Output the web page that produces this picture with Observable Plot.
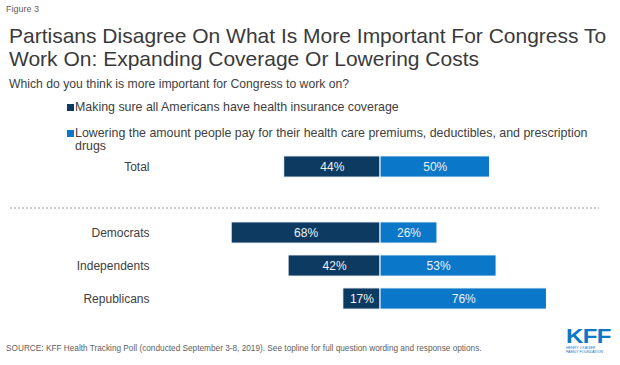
<!DOCTYPE html>
<html>
<head>
<meta charset="utf-8">
<script src="https://cdn.jsdelivr.net/npm/d3@7"></script>
<script src="https://cdn.jsdelivr.net/npm/@observablehq/plot@0.6"></script>
<style>
  html, body { margin: 0; padding: 0; background: #fff; }
  #wrap { position: relative; width: 620px; height: 365px; overflow: hidden; font-family: "Liberation Sans", Arial, sans-serif; background: #fff; }
  .abs { position: absolute; white-space: nowrap; }
  #fig { left: 6px; top: 4px; font-size: 9px; color: #606060; }
  #title { left: 9px; top: 24px; font-size: 21px; line-height: 23.4px; color: #3a3a3a; white-space: normal; width: 605px; }
  #subtitle { left: 9px; top: 77px; font-size: 12.2px; color: #404040; }
  .leg { position: absolute; left: 67px; font-size: 12.4px; line-height: 13px; color: #404040; }
  .leg .sw { position: absolute; left: 0; top: 3px; width: 7px; height: 7px; }
  .leg .tx { position: absolute; left: 8px; top: 0; width: 535px; white-space: normal; }
  #chart { position: absolute; left: 0; top: 140px; }
  #source { left: 6px; top: 344px; font-size: 8.25px; color: #606060; }
  #logo { position: absolute; left: 566px; top: 326px; color: #0a77c8; }
  #logo .k { font-weight: bold; font-size: 20px; line-height: 20px; display: inline-block; transform: scaleX(1.2); transform-origin: left top; letter-spacing: -0.5px; }
  #logo .s { font-size: 3.6px; line-height: 4px; color: #0a77c8; margin-top: -1px; }
</style>
</head>
<body>
<div id="wrap">
  <div id="fig" class="abs"></div>
  <div id="title" class="abs"></div>
  <div id="subtitle" class="abs"></div>
  <div id="leg1" class="leg"></div>
  <div id="leg2" class="leg"></div>
  <div id="chart"></div>
  <div id="source" class="abs"></div>
  <div id="logo"><div class="k">KFF</div><div class="s">HENRY J KAISER<br>FAMILY FOUNDATION</div></div>
</div>
<script>
const figureLabel = "Figure 3";
const titleText = "Partisans Disagree On What Is More Important For Congress To Work On: Expanding Coverage Or Lowering Costs";
const subtitleText = "Which do you think is more important for Congress to work on?";
const sourceText = "SOURCE: KFF Health Tracking Poll (conducted September 3-8, 2019). See topline for full question wording and response options.";

const categories = ["Total", "Democrats", "Independents", "Republicans"];
const seriesNames = [
  "Making sure all Americans have health insurance coverage",
  "Lowering the amount people pay for their health care premiums, deductibles, and prescription drugs"
];
const coverage = [44, 68, 42, 17];
const costs = [50, 26, 53, 76];
const colors = ["#0d3a61", "#0a77c8"];

document.getElementById("fig").textContent = figureLabel;
document.getElementById("title").textContent = titleText;
document.getElementById("subtitle").textContent = subtitleText;
document.getElementById("source").textContent = sourceText;

const legTops = [101, 127];
["leg1", "leg2"].forEach((id, i) => {
  const el = document.getElementById(id);
  el.style.top = legTops[i] + "px";
  el.innerHTML = `<div class="sw" style="background:${colors[i]}"></div><div class="tx"></div>`;
  el.querySelector(".tx").textContent = seriesNames[i];
});

const gap = " ";
const yDomain = [categories[0], gap, ...categories.slice(1)];

const rows = [];
categories.forEach((c, i) => {
  rows.push({cat: c, series: 0, x1: -coverage[i], x2: 0, v: coverage[i]});
  rows.push({cat: c, series: 1, x1: 0, x2: costs[i], v: costs[i]});
});

const chart = Plot.plot({
  width: 620,
  height: 180,
  marginTop: 8.6,
  marginBottom: 2.65,
  marginLeft: 10,
  marginRight: 21,
  style: {background: "transparent", fontFamily: "Liberation Sans, Arial, sans-serif", fontSize: "12px", overflow: "visible"},
  x: {domain: [-169, 100], axis: null},
  y: {domain: yDomain, padding: 0, axis: null},
  marks: [
    Plot.ruleY([gap], {y: d => d, stroke: "#9a9a9a", strokeWidth: 1, strokeDasharray: "2,2", dy: 8}),
    Plot.barX(rows, {y: "cat", x1: "x1", x2: "x2", fill: d => colors[d.series], stroke: "#ffffff", strokeWidth: 1, insetTop: 5.9, insetBottom: 5.9}),
    Plot.text(rows, {y: "cat", x: d => (d.x1 + d.x2) / 2, text: d => d.v + "%", fill: "#eef3f8", fontSize: 12}),
    Plot.text(categories, {y: d => d, text: d => d, frameAnchor: "left", textAnchor: "end", dx: 139, fill: "#404040", fontSize: 12})
  ]
});
document.getElementById("chart").appendChild(chart);
</script>
</body>
</html>
